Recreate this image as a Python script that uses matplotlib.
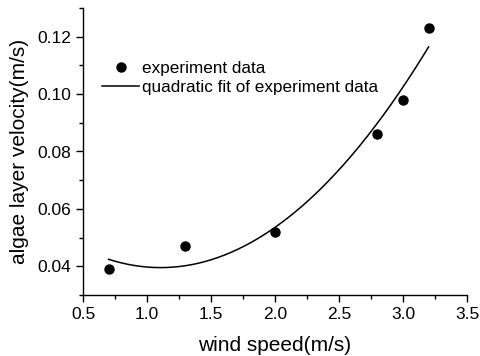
import matplotlib
matplotlib.use('Agg')
import matplotlib.pyplot as plt
from matplotlib.ticker import MultipleLocator
import numpy as np

plt.rcParams['font.family'] = ['Liberation Sans', 'DejaVu Sans']

# measured points
wind = np.array([0.7, 1.3, 2.0, 2.8, 3.0, 3.2])
velocity = np.array([0.039, 0.047, 0.052, 0.086, 0.098, 0.123])

# quadratic fit of the measured points
coef = np.polyfit(wind, velocity, 2)
xs = np.linspace(wind.min(), wind.max(), 200)
fit = np.polyval(coef, xs)

fig = plt.figure(figsize=(4.8, 3.56), dpi=100)
ax = fig.add_axes([83 / 480, 1 - 295 / 356, (467 - 83) / 480, (295 - 8) / 356])

ax.plot(wind, velocity, 'o', color='black', markersize=6.5, label='experiment data')
ax.plot(xs, fit, '-', color='black', linewidth=1.1, label='quadratic fit of experiment data')

ax.set_xlim(0.5, 3.5)
ax.set_ylim(0.03, 0.13)
ax.xaxis.set_minor_locator(MultipleLocator(0.25))
ax.yaxis.set_minor_locator(MultipleLocator(0.01))
ax.set_yticks([0.04, 0.06, 0.08, 0.10, 0.12])
ax.set_yticklabels(['0.04', '0.06', '0.08', '0.10', '0.12'])
ax.set_xticks([0.5, 1.0, 1.5, 2.0, 2.5, 3.0, 3.5])
ax.set_xticklabels(['0.5', '1.0', '1.5', '2.0', '2.5', '3.0', '3.5'])

for s in ['top', 'right']:
	ax.spines[s].set_visible(False)
for s in ['left', 'bottom']:
	ax.spines[s].set_linewidth(1.0)

ax.tick_params(which='major', direction='out', length=5, width=1, labelsize=12.5)
ax.tick_params(which='minor', direction='out', length=3, width=1)

ax.set_xlabel('wind speed(m/s)', fontsize=15, labelpad=10)
ax.set_ylabel('algae layer velocity(m/s)', fontsize=15, labelpad=6)

ax.legend(loc='upper left', bbox_to_anchor=(0.049, 0.816), frameon=False, fontsize=12.3,
	handlelength=2.2, handletextpad=0.18, labelspacing=0.24, borderaxespad=0,
	borderpad=0)

fig.savefig('out.png', dpi=100)
